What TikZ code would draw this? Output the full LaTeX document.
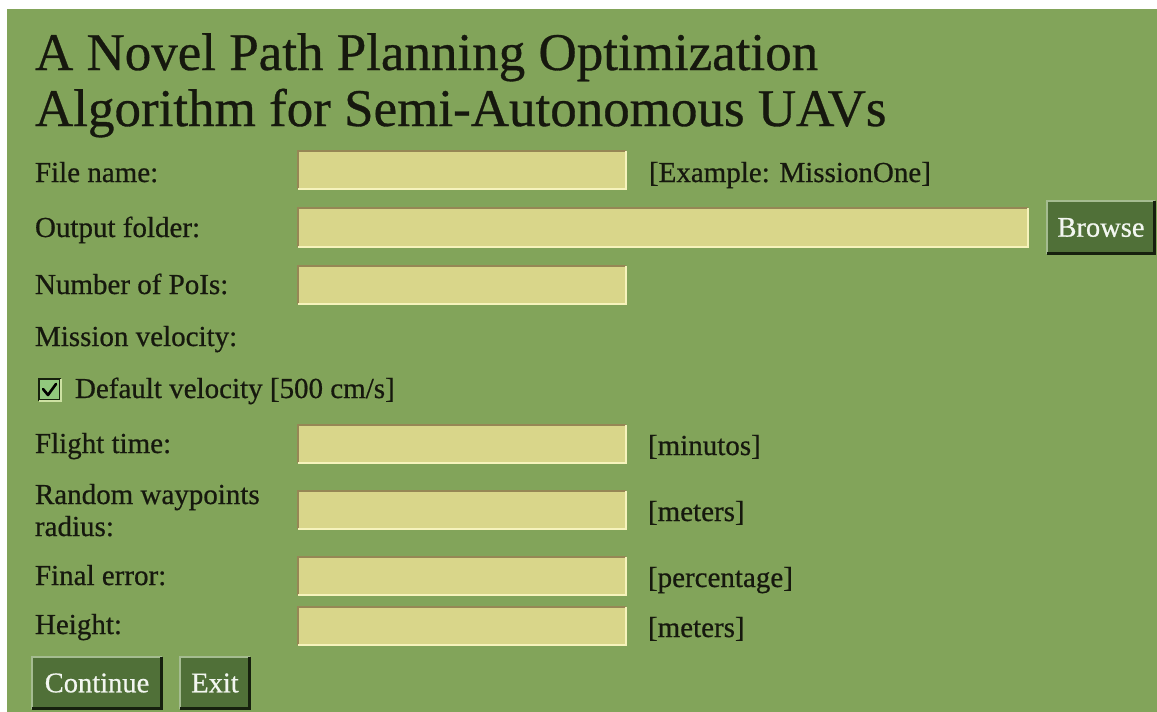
\documentclass[tikz,border=0pt]{standalone}
\usepackage{fontspec}
\setmainfont{Liberation Serif}[FakeBold=0.6]
\definecolor{bg}{RGB}{130,164,90}
\definecolor{fieldfill}{RGB}{217,214,138}
\definecolor{fielddarkc}{RGB}{150,135,85}
\definecolor{fieldlightc}{RGB}{246,243,188}
\definecolor{btnfill}{RGB}{80,112,56}
\definecolor{btnlightc}{RGB}{165,188,145}
\definecolor{btndarkc}{RGB}{22,32,14}
\definecolor{txt}{RGB}{22,24,14}
\definecolor{btntxt}{RGB}{242,246,240}
\definecolor{chkfill}{RGB}{145,200,125}
\tikzset{
  lbl/.style={anchor=base west, inner sep=0pt, outer sep=0pt, text=txt,
              font=\fontsize{29}{32}\selectfont},
  ttl/.style={anchor=base west, inner sep=0pt, outer sep=0pt, text=txt,
              font=\fontsize{53}{56}\selectfont},
  fieldbox/.style={fill=fieldfill, draw=none, inner sep=0pt, outer sep=0pt},
  fielddark/.style={draw=fielddarkc, line width=2pt},
  fieldlight/.style={draw=fieldlightc, line width=2pt},
  btnbox/.style={fill=btnfill, draw=none, inner sep=0pt, outer sep=0pt,
                 text=btntxt, font=\fontsize{28.5}{32}\selectfont},
  btnlight/.style={draw=btnlightc, line width=2pt},
  btndark/.style={draw=btndarkc, line width=3pt},
}
\newcommand\txtfield[5]{%
  \node[fieldbox, anchor=north west, minimum width={#4-#2}, minimum height={#5-#3}] (#1) at (#2,#3) {};
  \draw[fielddark] (#1.south west) -- (#1.north west) -- (#1.north east);
  \draw[fieldlight] (#1.north east) -- (#1.south east) -- (#1.south west);
}
\newcommand\uibutton[6]{%
  \node[btnbox, anchor=north west, minimum width={#4-#2}, minimum height={#5-#3}] (#1) at (#2,#3) {};
  \node[btnbox, fill=none] (#1t) at (#1.center) {#6};
  \draw[btnlight] (#1.south west) -- (#1.north west) -- (#1.north east);
  \draw[btndark] ([xshift=-1pt]#1.north east) -- ([xshift=-1pt,yshift=1pt]#1.south east) -- ([yshift=1pt]#1.south west);
}
\begin{document}
\begin{tikzpicture}[x=1pt,y=-1pt]
\useasboundingbox (0,0) rectangle (1157,712);
\fill[white] (0,0) rectangle (1157,712);
\fill[bg] (7,9) rectangle (1157,712);

% title
\node[ttl] (title1) at (35,70) {A Novel Path Planning Optimization};
\node[ttl] (title2) at (35,126) {Algorithm for Semi-Autonomous UAVs};

% labels
\node[lbl] (lfile) at (35,182) {File name:};
\node[lbl] (lout) at (35,237) {Output folder:};
\node[lbl] (lpoi) at (35,294) {Number of PoIs:};
\node[lbl] (lvel) at (35,346) {Mission velocity:};
\node[lbl] (ldef) at (75,398) {Default velocity [500 cm/s]};
\node[lbl] (lflight) at (35,453) {Flight time:};
\node[lbl] (lrand) at (35,504) {Random waypoints};
\node[lbl] (lrand2) at (35,536) {radius:};
\node[lbl] (lerr) at (35,585) {Final error:};
\node[lbl] (lheight) at (35,634) {Height:};

% fields
\txtfield{ffile}{298}{151}{626}{189}
\txtfield{fout}{298}{208}{1028}{247}
\txtfield{fpoi}{298}{266}{626}{304}
\txtfield{fflight}{298}{425}{626}{463}
\txtfield{frand}{298}{491}{626}{529}
\txtfield{ferr}{298}{557}{626}{595}
\txtfield{fheight}{298}{607}{626}{645}

% hints
\node[lbl] (hfile) at (649,182) {[Example: MissionOne]};
\node[lbl] (hflight) at (648,455) {[minutos]};
\node[lbl] (hrand) at (648,521) {[meters]};
\node[lbl] (herr) at (648,587) {[percentage]};
\node[lbl] (hheight) at (648,637) {[meters]};

% checkbox
\node[fill=chkfill, draw=btndarkc, line width=1.5pt, anchor=north west, minimum width=21pt, minimum height=21pt, inner sep=0pt, outer sep=0pt] (chk) at (39,379) {};
\draw[draw=fieldlightc!60!chkfill, line width=1.2pt] ([xshift=1pt]chk.north east) -- ([xshift=1pt,yshift=-1pt]chk.south east) -- ([yshift=-1pt]chk.south west);
\draw[black, line width=2.6pt, line cap=round, line join=round]
  ([xshift=4pt,yshift=-10pt]chk.north west) -- ([xshift=9pt,yshift=-16pt]chk.north west) -- ([xshift=17pt,yshift=-5pt]chk.north west);

% buttons
\uibutton{bbrowse}{1047}{201}{1155}{254}{Browse}
\uibutton{bcont}{32}{657}{162}{709}{Continue}
\uibutton{bexit}{180}{657}{250}{709}{Exit}
\end{tikzpicture}
\end{document}
